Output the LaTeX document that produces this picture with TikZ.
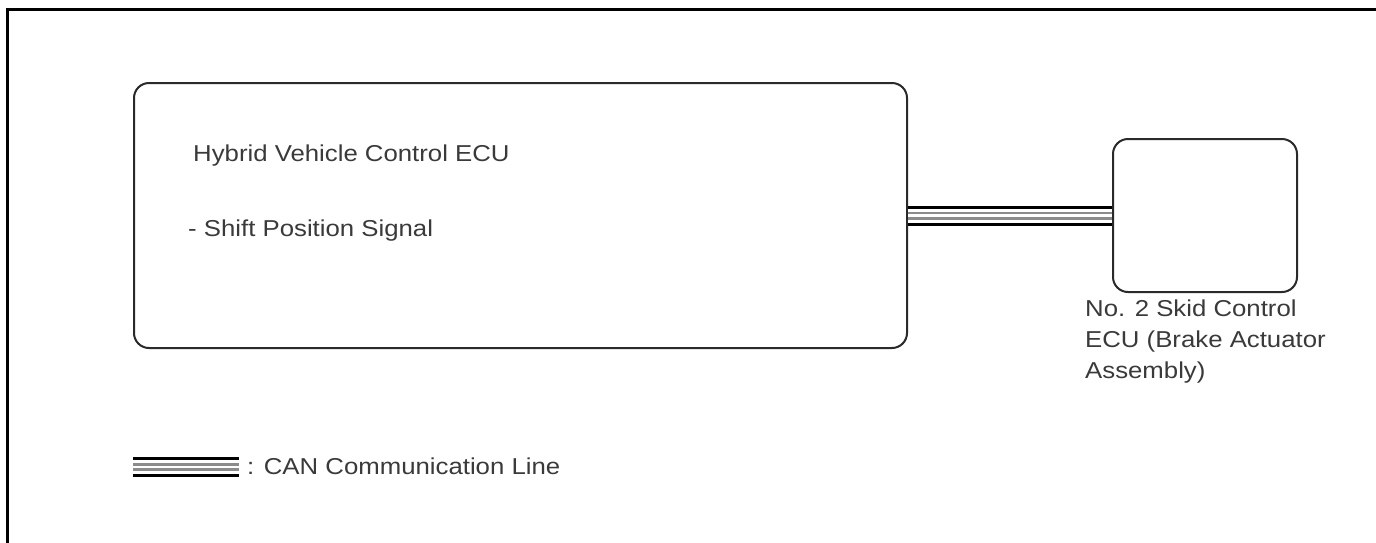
\documentclass[tikz,border=0pt]{standalone}
\usepackage{fontspec}
\setmainfont{Liberation Sans}[FakeStretch=1.12]
\definecolor{txt}{HTML}{3A3A3A}
\definecolor{edge}{HTML}{2A2A2A}
\tikzset{
  ecubox/.style={draw=edge, line width=2pt, rounded corners=15pt, inner sep=0pt, fill=white},
  lbl/.style={anchor=base west, inner sep=0pt, text=txt, font=\fontsize{23}{31}\selectfont},
  canA/.style={line width=20pt, black},
  canB/.style={line width=14pt, white},
  canC/.style={line width=8pt, black!45},
  canD/.style={line width=2.5pt, white}
}
\begin{document}
\begin{tikzpicture}[x=1pt,y=-1pt]
\useasboundingbox (0,0) rectangle (1376,542);
\fill[white] (0,0) rectangle (1376,542);
% frame
\draw[line width=3pt] (7,545) -- (7,9) -- (1380,9);
% boxes
\node[ecubox, minimum width=773pt, minimum height=265pt] (hv) at (520.5,215.5) {};
\node[ecubox, minimum width=184pt, minimum height=153pt] (sk) at (1205,215.5) {};
% CAN line between ECUs
\foreach \s in {canA,canB,canC,canD}{
  \draw[\s] (hv.east) -- (sk.west);
}
% texts
\node[lbl] (t1) at (193,161) {Hybrid Vehicle Control ECU};
\node[lbl] (t2) at (188,236) {- Shift Position Signal};
\node[lbl, align=left, anchor=north west] (t3) at (1085,300) {No. 2 Skid Control\\ECU (Brake Actuator\\Assembly)};
% legend
\coordinate (lg1) at (133,467);
\coordinate (lg2) at (239,467);
\foreach \s in {canA,canB,canC,canD}{
  \draw[\s] (lg1) -- (lg2);
}
\node[lbl] (t4) at (247,474) {: CAN Communication Line};
\end{tikzpicture}
\end{document}
